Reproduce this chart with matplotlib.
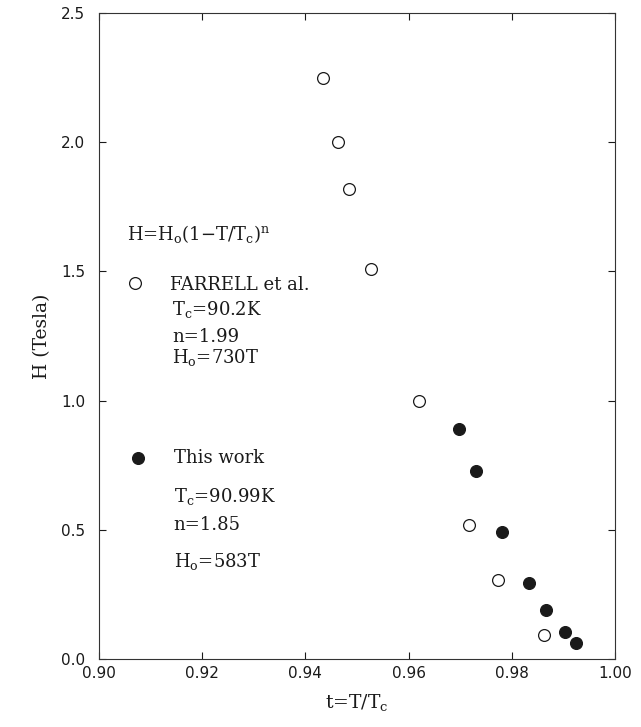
import numpy as np
import matplotlib.pyplot as plt

# FARRELL et al. (open circles)
t_farrell = [0.9434, 0.9464, 0.9484, 0.9528, 0.9620, 0.9718, 0.9774, 0.9863]
h_farrell = [2.25, 2.00, 1.82, 1.51, 1.00, 0.52, 0.307, 0.094]

# this work (filled circles)
t_this = [0.9698, 0.9730, 0.9782, 0.9833, 0.9866, 0.9903, 0.9925]
h_this = [0.889, 0.729, 0.491, 0.293, 0.190, 0.103, 0.062]

x_ticks = [0.90, 0.92, 0.94, 0.96, 0.98, 1.00]
y_ticks = [0.0, 0.5, 1.0, 1.5, 2.0, 2.5]

plt.rcParams['mathtext.fontset'] = 'dejavuserif'
serif = 'DejaVu Serif'
ink = '#1a1a1a'

fig = plt.figure(figsize=(6.41, 7.27), dpi=100)
ax = fig.add_axes([0.1544, 0.0935, 0.805, 0.8886])

ax.plot(t_farrell, h_farrell, 'o', ms=8.5, mfc='white', mec=ink, mew=0.9)
ax.plot(t_this, h_this, 'o', ms=8.5, mfc=ink, mec=ink, mew=0.9)

ax.set_xlim(0.90, 1.00)
ax.set_ylim(0.0, 2.5)
ax.set_xticks(x_ticks)
ax.set_yticks(y_ticks)
ax.set_xticklabels([f'{v:.2f}' for v in x_ticks])
ax.set_yticklabels([f'{v:.1f}' for v in y_ticks])
ax.tick_params(direction='in', length=5, width=0.8, colors=ink,
               top=True, right=True, labelsize=11)
ax.tick_params(axis='y', pad=10)
ax.tick_params(axis='x', pad=5)
for sp in ax.spines.values():
    sp.set_linewidth(0.8)
    sp.set_color('#333333')

ax.set_xlabel('t=T/T$_\\mathrm{c}$', family=serif, fontsize=13.5, color=ink, labelpad=8)
ax.set_ylabel('H (Tesla)', family=serif, fontsize=13.5, color=ink, labelpad=7)

# fit formula and parameter notes
fs = 13
ax.text(0.9054, 1.62, 'H=H$_\\mathrm{o}$(1$-$T/T$_\\mathrm{c}$)$^\\mathrm{n}$',
        family=serif, fontsize=fs, color=ink, va='baseline')

ax.plot([0.9070], [1.455], 'o', ms=8.5, mfc='white', mec=ink, mew=0.9)
ax.text(0.9138, 1.428, 'FARRELL et al.', family=serif, fontsize=fs, color=ink, va='baseline')
ax.text(0.9141, 1.331, 'T$_\\mathrm{c}$=90.2K', family=serif, fontsize=fs, color=ink, va='baseline')
ax.text(0.9143, 1.227, 'n=1.99', family=serif, fontsize=fs, color=ink, va='baseline')
ax.text(0.9141, 1.146, 'H$_\\mathrm{o}$=730T', family=serif, fontsize=fs, color=ink, va='baseline')

ax.plot([0.9076], [0.778], 'o', ms=8.5, mfc=ink, mec=ink, mew=0.9)
ax.text(0.9145, 0.758, 'This work', family=serif, fontsize=fs, color=ink, va='baseline')
ax.text(0.9145, 0.608, 'T$_\\mathrm{c}$=90.99K', family=serif, fontsize=fs, color=ink, va='baseline')
ax.text(0.9145, 0.499, 'n=1.85', family=serif, fontsize=fs, color=ink, va='baseline')
ax.text(0.9145, 0.356, 'H$_\\mathrm{o}$=583T', family=serif, fontsize=fs, color=ink, va='baseline')

fig.savefig('out.png', dpi=100)
